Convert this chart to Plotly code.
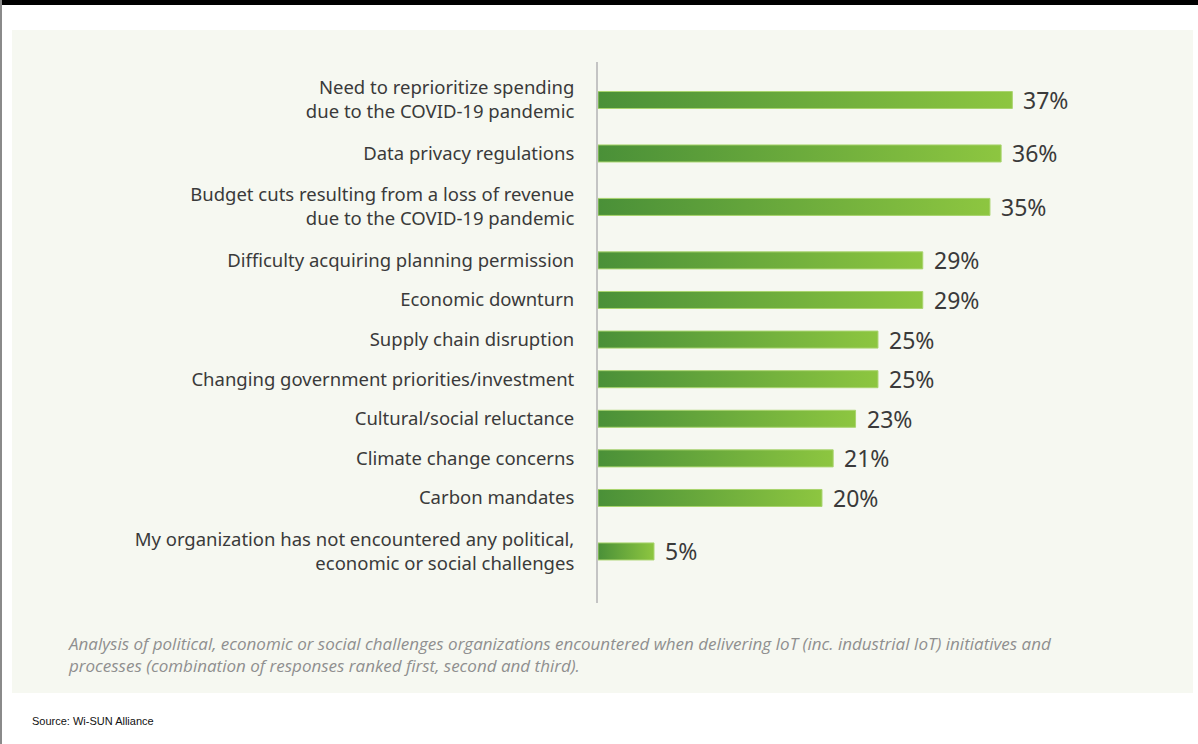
import plotly.graph_objects as go

categories = [
    "Need to reprioritize spending<br>due to the COVID-19 pandemic",
    "Data privacy regulations",
    "Budget cuts resulting from a loss of revenue<br>due to the COVID-19 pandemic",
    "Difficulty acquiring planning permission",
    "Economic downturn",
    "Supply chain disruption",
    "Changing government priorities/investment",
    "Cultural/social reluctance",
    "Climate change concerns",
    "Carbon mandates",
    "My organization has not encountered any political,<br>economic or social challenges",
]
values = [37, 36, 35, 29, 29, 25, 25, 23, 21, 20, 5]
value_labels = [f"{v}%" for v in values]

caption = ("Analysis of political, economic or social challenges organizations encountered when delivering IoT (inc. industrial IoT) initiatives and<br>"
           "processes (combination of responses ranked first, second and third).")
source = "Source: Wi-SUN Alliance"

W, H = 1198, 744
# row heights derived from number of label lines
row_h = [1.7 if "<br>" in c else 1.0 for c in categories]
pos = [0.0]
for i in range(1, len(categories)):
    pos.append(pos[-1] + (row_h[i - 1] + row_h[i]) / 2)

half = 0.215
fig = go.Figure()
for cat, v, p in zip(categories, values, pos):
    fig.add_trace(go.Scatter(
        x=[0, v, v, 0, 0], y=[p - half, p - half, p + half, p + half, p - half],
        mode="lines", fill="toself",
        line=dict(color="#a9d46e", width=1),
        fillgradient=dict(type="horizontal",
                          colorscale=[[0, "#4a9038"], [1, "#8dc640"]]),
        hoverinfo="skip", showlegend=False,
    ))

for v, p, t in zip(values, pos, value_labels):
    fig.add_annotation(x=v, y=p, text=t, showarrow=False, xanchor="left",
                       yanchor="middle", xshift=9,
                       font=dict(family="Noto Sans", size=23, color="#3a3a3a"))

# caption & source
fig.add_annotation(xref="paper", yref="paper", x=(66 - 598) / 542, y=(744 - 630 - 141) / 541,
                   text=caption, showarrow=False, xanchor="left", yanchor="top", align="left",
                   font=dict(family="Open Sans", size=17, color="#8f8f8f", style="italic"))
fig.add_annotation(xref="paper", yref="paper", x=(30 - 598) / 542, y=(744 - 721 - 141) / 541,
                   text=source, showarrow=False, xanchor="left", yanchor="middle", align="left",
                   font=dict(family="Liberation Sans", size=11, color="#111111"))

shapes = [
    dict(type="rect", xref="paper", yref="paper", layer="below", line=dict(width=0),
         fillcolor="#f6f8f1",
         x0=(12 - 598) / 542, x1=(1193 - 598) / 542,
         y0=(744 - 693 - 141) / 541, y1=(744 - 30 - 141) / 541),
    dict(type="rect", xref="paper", yref="paper", layer="above", line=dict(width=0),
         fillcolor="#000000",
         x0=(0 - 598) / 542, x1=(1198 - 598) / 542,
         y0=(744 - 5 - 141) / 541, y1=(744 - 141) / 541),
    dict(type="rect", xref="paper", yref="paper", layer="above", line=dict(width=0),
         fillcolor="#8a8a8a",
         x0=(0 - 598) / 542, x1=(2 - 598) / 542,
         y0=(0 - 141) / 541, y1=(744 - 141) / 541),
]

unit = 39.6
y_top = -(100 - 62) / unit
y_bot = y_top + 541 / unit

fig.update_layout(
    width=W, height=H,
    margin=dict(l=598, r=58, t=62, b=141),
    paper_bgcolor="white", plot_bgcolor="rgba(0,0,0,0)",
    shapes=shapes,
    xaxis=dict(range=[0, 48.4], visible=False, fixedrange=True),
    yaxis=dict(range=[y_bot, y_top], tickmode="array", tickvals=pos, ticktext=categories,
               showgrid=False, zeroline=False, showline=True, linecolor="#c4c4c4", linewidth=2,
               ticks="outside", ticklen=18, tickcolor="rgba(0,0,0,0)",
               tickfont=dict(family="Noto Sans", size=18.5, color="#3a3a3a")),
)
fig.write_html("out.html")
